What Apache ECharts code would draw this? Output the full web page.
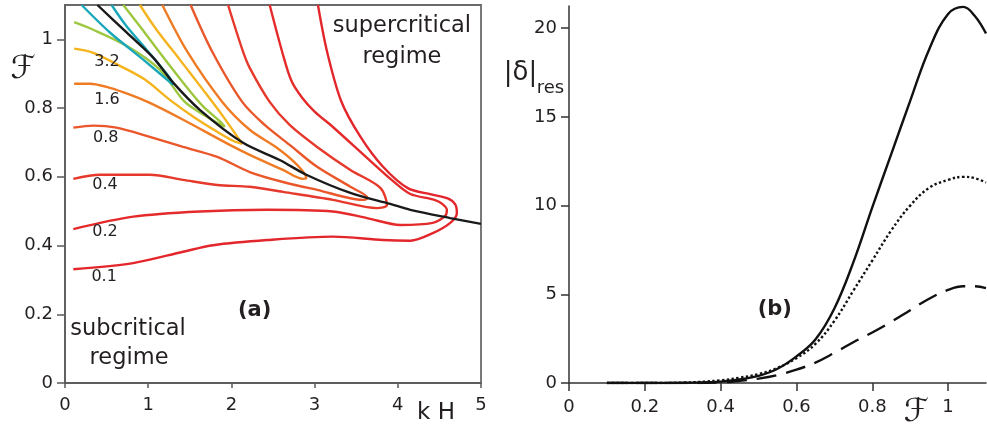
<!DOCTYPE html>
<html>
<head>
<meta charset="utf-8">
<script src="https://cdn.jsdelivr.net/npm/echarts@6/dist/echarts.min.js"></script>
<style>
html,body{margin:0;padding:0;background:#fff}
#main{width:987px;height:428px}
</style>
</head>
<body>
<div id="main"></div>
<script>
// panel (a): level lines, points are [kH, F]
var lev01 = [[0.10,0.331],[0.82,0.349],[1.42,0.382],[1.78,0.401],[2.43,0.416],[3.22,0.426],[3.82,0.416],[4.15,0.414],[4.42,0.436],[4.63,0.466],[4.71,0.495],[4.69,0.520],[4.60,0.537],[4.40,0.549],[4.12,0.567],[3.82,0.630],[3.55,0.717],[3.32,0.820],[3.15,0.964],[3.04,1.10]];
var lev02 = [[0.10,0.448],[0.82,0.484],[1.62,0.499],[2.43,0.504],[3.22,0.499],[3.63,0.480],[4.03,0.460],[4.42,0.466],[4.57,0.486],[4.59,0.504],[4.53,0.522],[4.44,0.533],[4.15,0.550],[3.94,0.588],[3.63,0.655],[3.22,0.745],[3.00,0.790],[2.85,0.830],[2.72,0.880],[2.61,0.964],[2.46,1.10]];
var lev04 = [[0.10,0.594],[0.42,0.606],[1.02,0.606],[1.42,0.591],[1.83,0.576],[2.22,0.571],[2.62,0.556],[3.22,0.533],[3.75,0.509],[3.87,0.518],[3.79,0.568],[3.43,0.620],[3.03,0.687],[2.70,0.751],[2.46,0.818],[2.22,0.917],[2.14,0.964],[1.96,1.10]];
var lev08 = [[0.10,0.743],[0.34,0.749],[0.62,0.743],[1.02,0.716],[1.42,0.687],[1.83,0.658],[2.22,0.614],[2.62,0.585],[3.03,0.562],[3.58,0.533],[3.64,0.538],[3.43,0.571],[3.03,0.629],[2.70,0.693],[2.40,0.751],[2.13,0.818],[1.77,0.964],[1.51,1.10]];
var lev16 = [[0.11,0.871],[0.30,0.871],[0.54,0.859],[0.78,0.839],[1.02,0.815],[1.42,0.766],[1.98,0.693],[2.22,0.664],[2.62,0.620],[2.86,0.594],[2.90,0.597],[2.79,0.635],[2.55,0.684],[2.22,0.737],[1.89,0.818],[1.47,0.964],[1.17,1.10]];
var lev32 = [[0.11,0.973],[0.34,0.961],[0.66,0.923],[0.96,0.883],[1.26,0.824],[1.56,0.772],[1.83,0.731],[2.02,0.705],[2.13,0.696],[2.07,0.717],[1.90,0.776],[1.66,0.853],[1.38,0.941],[1.10,1.028],[0.90,1.10]];
var lev64 = [[0.11,1.05],[0.34,1.028],[0.75,0.98],[1.14,0.912],[1.44,0.818],[1.74,0.770],[1.92,0.746],[1.87,0.760],[1.66,0.805],[1.42,0.874],[1.14,0.961],[0.90,1.038],[0.70,1.10]];
var lev128 = [[0.20,1.10],[0.54,1.02],[0.94,0.941],[1.30,0.868],[1.26,0.888],[0.98,0.97],[0.74,1.038],[0.56,1.10]];
var critical = [[0.39,1.10],[0.74,1.02],[1.06,0.947],[1.30,0.874],[1.62,0.795],[2.14,0.699],[2.58,0.649],[2.90,0.606],[3.43,0.553],[3.91,0.521],[4.15,0.504],[4.63,0.480],[5.0,0.463]];

var levels = [lev01, lev02, lev04, lev08, lev16, lev32, lev64, lev128];
var levelColors = ['#e3262b', '#e42a2a', '#e6382b', '#ea572a', '#ef7c25', '#f5b41e', '#9cc73f', '#1ba7ba'];
var levelNames = ['0.1', '0.2', '0.4', '0.8', '1.6', '3.2'];
var levelLabelAt = [[0.47,0.308],[0.48,0.439],[0.48,0.576],[0.49,0.713],[0.505,0.824],[0.505,0.936]];

// panel (b)
var Fb = [0.1, 0.2, 0.3, 0.4, 0.45, 0.5, 0.55, 0.6, 0.65, 0.7, 0.75, 0.8, 0.85, 0.9, 0.95, 1.0, 1.04, 1.07, 1.1];
var solid = [0, 0, 0.01, 0.08, 0.2, 0.4, 0.8, 1.5, 2.45, 4.2, 6.8, 9.9, 12.9, 15.9, 18.8, 20.8, 21.2, 20.7, 19.7];
var dotted = [0, 0, 0.02, 0.15, 0.3, 0.5, 0.85, 1.4, 2.2, 3.5, 5.2, 6.9, 8.6, 10.0, 11.0, 11.45, 11.62, 11.55, 11.3];
var dashed = [0, 0, 0, 0.04, 0.12, 0.25, 0.45, 0.75, 1.15, 1.7, 2.3, 2.85, 3.45, 4.1, 4.75, 5.25, 5.45, 5.45, 5.35];

var yTicksA = [0, 0.2, 0.4, 0.6, 0.8, 1];
var xTicksB = [0, 0.2, 0.4, 0.6, 0.8, 1];
var yTicksB = [0, 5, 10, 15, 20];

var ink = '#231f20';
var font = 'DejaVu Sans';

function pairs(xs, ys) {
    return xs.map(function (x, i) { return [x, ys[i]]; });
}

var chart = echarts.init(document.getElementById('main'));

var series = [];
levels.forEach(function (d, i) {
    series.push({
        type: 'line', xAxisIndex: 0, yAxisIndex: 0, data: d,
        showSymbol: false, smooth: 0.3, silent: true,
        lineStyle: { color: levelColors[i], width: 2.4 }
    });
});
series.push({
    type: 'line', xAxisIndex: 0, yAxisIndex: 0, data: critical,
    showSymbol: false, smooth: 0.3, silent: true,
    lineStyle: { color: '#1a1a1a', width: 2.4 }
});
series.push({
    type: 'line', xAxisIndex: 1, yAxisIndex: 1, data: pairs(Fb, solid),
    showSymbol: false, smooth: 0.4,
    lineStyle: { color: '#111', width: 2.4 }
});
series.push({
    type: 'line', xAxisIndex: 1, yAxisIndex: 1, data: pairs(Fb, dotted),
    showSymbol: false, smooth: 0.4,
    lineStyle: { color: '#111', width: 2.4, type: 'dotted' }
});
series.push({
    type: 'line', xAxisIndex: 1, yAxisIndex: 1, data: pairs(Fb, dashed),
    showSymbol: false, smooth: 0.4,
    lineStyle: { color: '#111', width: 2.4, type: [20, 10] }
});

var axisA = { lineStyle: { color: '#5a5a5a', width: 1.5 } };
var axisB = { lineStyle: { color: '#333', width: 1.5 } };
var lbl = { color: ink, fontSize: 18, fontFamily: font };

var option = {
    animation: false,
    textStyle: { fontFamily: font },
    grid: [
        { left: 65, top: 5, width: 416, height: 378, show: true, borderColor: '#6a6a6a', borderWidth: 1.8 },
        { left: 569, top: 6, width: 417, height: 377 }
    ],
    xAxis: [
        { gridIndex: 0, type: 'value', min: 0, max: 5, interval: 1,
          axisLine: axisA, axisTick: { length: 5, lineStyle: axisA.lineStyle },
          axisLabel: Object.assign({ margin: 13 }, lbl), splitLine: { show: false } },
        { gridIndex: 1, type: 'value', min: 0, max: 1.1,
          axisLine: axisB, axisTick: { length: 8, customValues: xTicksB, lineStyle: axisB.lineStyle },
          axisLabel: Object.assign({ margin: 15, customValues: xTicksB }, lbl), splitLine: { show: false } }
    ],
    yAxis: [
        { gridIndex: 0, type: 'value', min: 0, max: 1.1,
          axisLine: axisA, axisTick: { length: 8, customValues: yTicksA, lineStyle: axisA.lineStyle },
          axisLabel: Object.assign({ margin: 12, customValues: yTicksA }, lbl), splitLine: { show: false } },
        { gridIndex: 1, type: 'value', min: 0, max: 21.25,
          axisLine: axisB, axisTick: { length: 8, customValues: yTicksB, lineStyle: axisB.lineStyle },
          axisLabel: Object.assign({ margin: 12, customValues: yTicksB }, lbl), splitLine: { show: false } }
    ],
    series: series
};
chart.setOption(option);

// texts placed in data units of each panel
function txt(g, x, y, s, size, extra) {
    var p = chart.convertToPixel({ gridIndex: g }, [x, y]);
    return {
        type: 'text', x: p[0], y: p[1], z: 100,
        style: Object.assign({ text: s, fontSize: size, fontFamily: font, fill: ink,
            align: 'center', verticalAlign: 'middle' }, extra || {})
    };
}

var g = [];
levelNames.forEach(function (n, i) {
    g.push(txt(0, levelLabelAt[i][0], levelLabelAt[i][1], n, 16));
});
g.push(txt(0, -0.505, 0.912, 'ℱ', 32));
g.push(txt(0, 4.46, -0.088, 'k H', 23));
g.push(txt(0, 2.28, 0.212, '(a)', 21, { fontWeight: 'bold' }));
g.push(txt(0, 0.757, 0.156, 'subcritical', 22.5));
g.push(txt(0, 0.77, 0.072, 'regime', 22.5));
g.push(txt(0, 4.05, 1.037, 'supercritical', 22.5));
g.push(txt(0, 4.05, 0.949, 'regime', 22.5));
g.push(txt(1, -0.128, 17.47, '|δ|', 26));
g.push(txt(1, -0.049, 16.6, 'res', 18));
g.push(txt(1, 0.543, 4.16, '(b)', 21, { fontWeight: 'bold' }));
g.push(txt(1, 0.916, -1.65, 'ℱ', 32));

chart.setOption({ graphic: g });
</script>
</body>
</html>
